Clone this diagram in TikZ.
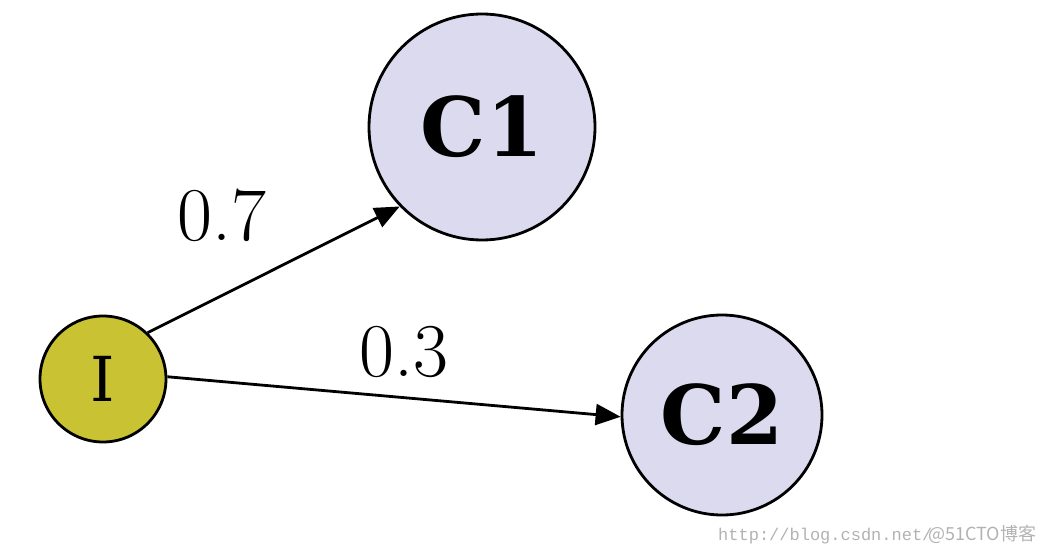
\documentclass[tikz,border=0pt]{standalone}
\usepackage{fontspec}
\usetikzlibrary{arrows.meta}
\newfontfamily\lblfont{DejaVu Serif}
\newfontfamily\monofont{Liberation Mono}
\newfontfamily\cjkfont{Noto Sans CJK SC}
\definecolor{olivefill}{HTML}{C9C232}
\definecolor{lavfill}{HTML}{DCDAEE}
\begin{document}
\begin{tikzpicture}[x=1pt,y=1pt,
  circ/.style={circle,draw=black,line width=2.8pt,inner sep=0pt},
  conn/.style={line width=2.8pt,-{Triangle[length=25pt,width=21pt]}},
  wlabel/.style={inner sep=0pt,font=\fontsize{76}{80}\selectfont},
  wmark/.style={inner sep=0pt,text=black!30}]
\useasboundingbox (0,0) rectangle (1038,558);
\node[circ,fill=olivefill,minimum size=126pt,font=\lblfont\fontsize{62}{62}\selectfont] (I) at (103,179) {I};
\node[circ,fill=lavfill,minimum size=226pt,font=\lblfont\bfseries\fontsize{82}{82}\selectfont] (C1) at (482,431) {C1};
\node[circ,fill=lavfill,minimum size=200pt,font=\lblfont\bfseries\fontsize{82}{82}\selectfont] (C2) at (722,143) {C2};
\draw[conn] (I.46) -- (C1.224);
\draw[conn] (I.2) -- (C2.181);
\node[wlabel] (l1) at (222,343) {0.7};
\node[wlabel] (l2) at (404,206) {0.3};
\node[wmark,anchor=base west,font=\monofont\fontsize{17}{17}\selectfont] (url) at (718,18) {http://blog.csdn.net/};
\node[wmark,anchor=base west,font=\cjkfont\fontsize{18}{18}\selectfont] (wm) at (928,18) {@51CTO博客};
\end{tikzpicture}
\end{document}
